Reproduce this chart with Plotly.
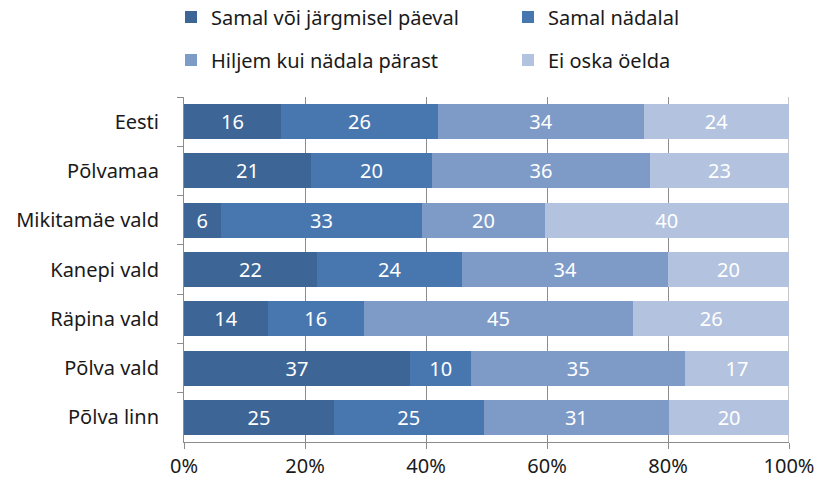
import plotly.graph_objects as go

categories = ["Eesti", "Põlvamaa", "Mikitamäe vald", "Kanepi vald", "Räpina vald", "Põlva vald", "Põlva linn"]
series_names = ["Samal või järgmisel päeval", "Samal nädalal", "Hiljem kui nädala pärast", "Ei oska öelda"]
s1 = [16, 21, 6, 22, 14, 37, 25]
s2 = [26, 20, 33, 24, 16, 10, 25]
s3 = [34, 36, 20, 34, 45, 35, 31]
s4 = [24, 23, 40, 20, 26, 17, 20]
tick_vals = [0, 20, 40, 60, 80, 100]
tick_text = ["0%", "20%", "40%", "60%", "80%", "100%"]

colors = ["#3D6595", "#4877B0", "#7E9BC8", "#B3C2DE"]
legend_ids = ["legend", "legend2", "legend3", "legend4"]
# legend placement (container fractions)
legend_x = [171 / 815, 508 / 815, 171 / 815, 508 / 815]
legend_y = [1 - 17 / 495, 1 - 17 / 495, 1 - 60 / 495, 1 - 60 / 495]

font = "Noto Sans"
fs = 20
fig = go.Figure()
for name, vals, col, lg in zip(series_names, [s1, s2, s3, s4], colors, legend_ids):
    fig.add_trace(go.Bar(
        y=categories, x=vals, name=name, orientation="h",
        marker=dict(color=col, line=dict(width=0)),
        text=[str(v) for v in vals], textposition="inside",
        insidetextanchor="middle",
        textfont=dict(color="white", size=fs, family=font),
        legend=lg, showlegend=True,
    ))

layout_legends = {}
for lg, lx, ly in zip(legend_ids, legend_x, legend_y):
    layout_legends[lg] = dict(orientation="h", x=lx, xref="container", xanchor="left",
                              y=ly, yref="container", yanchor="middle",
                              font=dict(size=fs, family=font, color="#1a1a1a"),
                              bgcolor="rgba(0,0,0,0)", borderwidth=0)

fig.update_layout(
    showlegend=True,
    barmode="stack", barnorm="percent", bargap=0.29,
    width=815, height=495,
    margin=dict(l=184, r=26, t=97, b=53),
    paper_bgcolor="white", plot_bgcolor="white",
    font=dict(family=font, size=fs, color="#1a1a1a"),
    uniformtext=dict(minsize=fs, mode="show"),
    xaxis=dict(range=[0, 100], tickvals=tick_vals, ticktext=tick_text,
               showgrid=True, gridcolor="#8c8c8c", gridwidth=1,
               showline=True, linecolor="#8c8c8c", linewidth=1, mirror=False,
               ticks="outside", ticklen=6, tickcolor="#8c8c8c",
               ticklabelstandoff=0, zeroline=False, automargin=False,
               tickfont=dict(size=fs, family=font)),
    yaxis=dict(autorange="reversed", showline=True, linecolor="#8c8c8c", linewidth=1,
               ticks="outside", ticklen=6, tickcolor="#8c8c8c", tickson="boundaries",
               ticklabelstandoff=20, automargin=False,
               tickfont=dict(size=fs, family=font)),
    **layout_legends,
)
fig.add_shape(type="line", xref="x", yref="paper", x0=100, x1=100, y0=0, y1=1,
              line=dict(color="#8c8c8c", width=1), layer="below")

fig.write_html("out.html", config={"displayModeBar": False},
               post_script="document.body.style.margin='0';")
